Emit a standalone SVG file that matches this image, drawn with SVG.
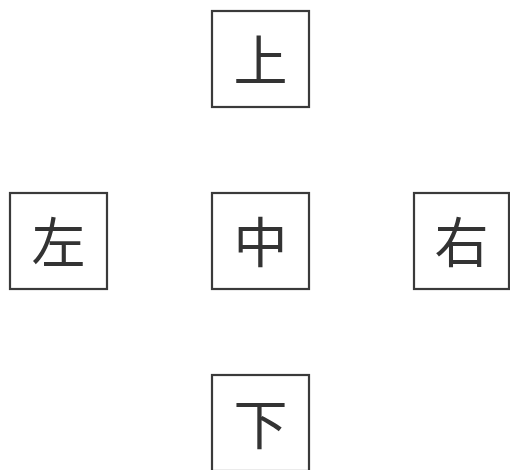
<svg xmlns="http://www.w3.org/2000/svg" width="510" height="470" viewBox="0 0 510 470">
<style>
.box{fill:#fff;stroke:#3a3a3a;stroke-width:2.2}
.lbl{font-family:"Noto Sans CJK SC","Noto Sans CJK JP",sans-serif;font-size:54px;fill:#333;text-anchor:middle;dominant-baseline:central}
</style>
<rect width="510" height="470" fill="#fff"/>
<g id="connectors"></g>
<g id="top"><rect class="box" x="212" y="11" width="97" height="96"/><text class="lbl" x="260.5" y="57">上</text></g>
<g id="left"><rect class="box" x="10" y="193" width="97" height="96"/><text class="lbl" x="58.5" y="239">左</text></g>
<g id="center"><rect class="box" x="212" y="193" width="97" height="96"/><text class="lbl" x="260.5" y="239">中</text></g>
<g id="right"><rect class="box" x="414" y="193" width="95" height="96"/><text class="lbl" x="461.5" y="239">右</text></g>
<g id="bottom"><rect class="box" x="212" y="375" width="97" height="96"/><text class="lbl" x="260.5" y="421">下</text></g>
</svg>
